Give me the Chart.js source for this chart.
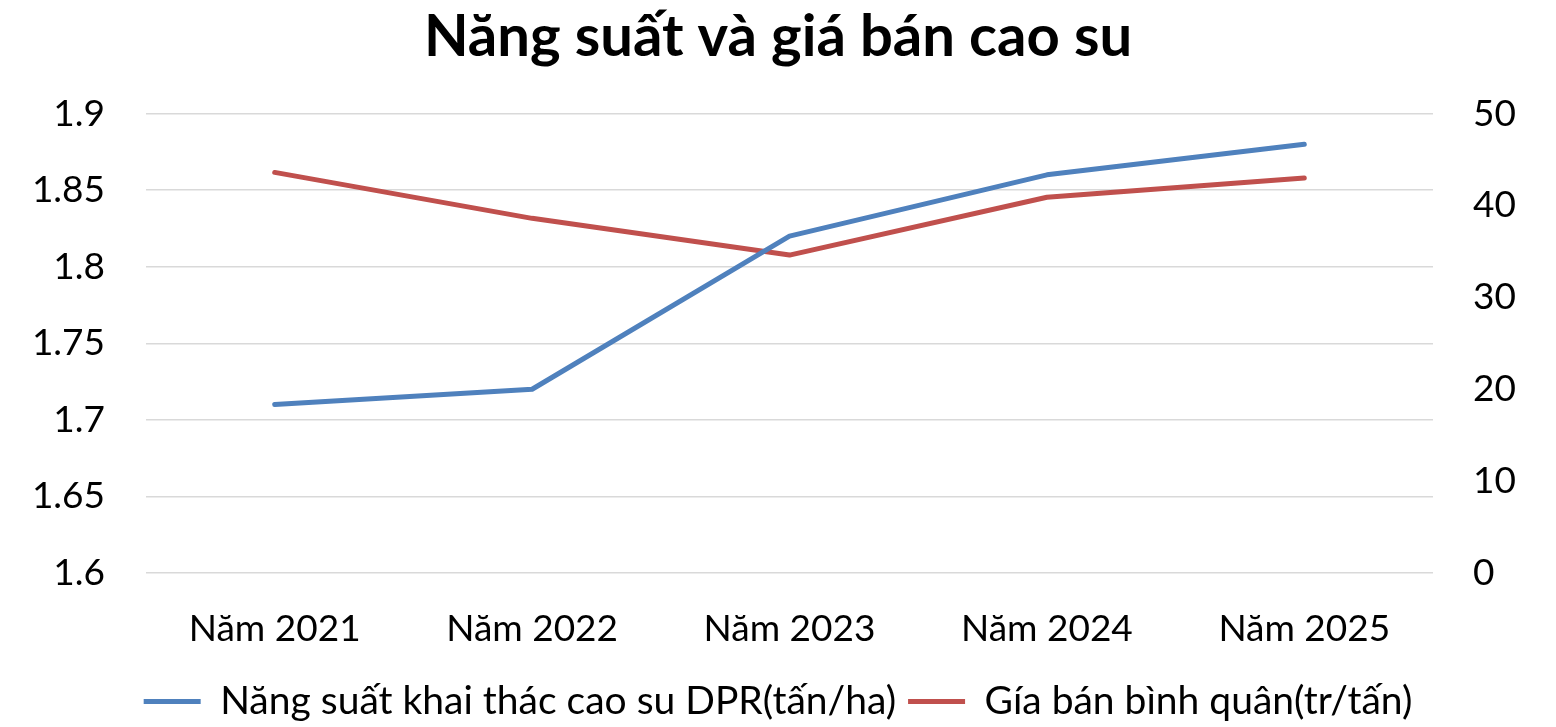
<!DOCTYPE html>
<html>
<head>
<meta charset="utf-8">
<script src="https://cdn.jsdelivr.net/npm/chart.js@4/dist/chart.umd.min.js"></script>
<style>
  html, body { margin: 0; padding: 0; background: #fff; }
  #wrap { width: 1556px; height: 727px; position: relative; }
</style>
</head>
<body>
<div id="wrap"><canvas id="rubberChart"></canvas></div>
<script>
// ── Data ──────────────────────────────────────────────────────────────────
var categories  = ['Năm 2021', 'Năm 2022', 'Năm 2023', 'Năm 2024', 'Năm 2025'];
var yieldValues = [1.71, 1.72, 1.82, 1.86, 1.88];       // tấn/ha, left axis
var priceValues = [43.6, 38.6, 34.6, 40.9, 43.0];       // tr/tấn, right axis
var yieldLabel  = 'Năng suất khai thác cao su DPR(tấn/ha)';
var priceLabel  = 'Gía bán bình quân(tr/tấn)';
var chartTitle  = 'Năng suất và giá bán cao su';

var BLUE = '#4F81BD';
var RED  = '#C0504D';
var GRID = '#D9D9D9';
var FONT = 'Lato, "Open Sans", sans-serif';

function lineSet(label, data, color, axis) {
  return {
    label:            label,
    data:             data,
    yAxisID:          axis,
    borderColor:      color,
    backgroundColor:  color,
    borderWidth:      5,
    borderCapStyle:   'round',
    borderJoinStyle:  'round',
    pointRadius:      0,
    pointHoverRadius: 0,
    tension:          0,
    fill:             false,
  };
}

new Chart(document.getElementById('rubberChart'), {
  type: 'line',
  data: {
    labels: categories,
    datasets: [
      lineSet(yieldLabel, yieldValues, BLUE, 'y'),
      lineSet(priceLabel, priceValues, RED, 'y1'),
    ]
  },
  options: {
    responsive: true,
    maintainAspectRatio: false,
    animation: false,
    layout: { padding: { left: 0, right: 0, top: 0, bottom: -4 } },
    plugins: {
      title: {
        display: true,
        text:    chartTitle,
        color:   '#000',
        font:    { family: FONT, size: 58, weight: 'bold' },
        padding: { top: 2, bottom: 42 },
      },
      legend: {
        position: 'bottom',
        labels: {
          color:           '#000',
          font:            { family: FONT, size: 39 },
          usePointStyle:   true,
          pointStyle:      'line',
          pointStyleWidth: 57,
          boxHeight:       5,
          padding:         12,
        }
      },
      tooltip: { enabled: false },
    },
    scales: {
      x: {
        offset: true,
        afterFit: function(s) { s.height = 97; },
        grid:   { display: false, drawTicks: false },
        border: { display: false },
        ticks:  { color: '#000', font: { family: FONT, size: 37 }, padding: 34, maxRotation: 0 },
      },
      y: {
        position: 'left',
        min: 1.6, max: 1.9,
        afterFit: function(s) { s.width = 146; },
        grid:   { color: GRID, lineWidth: 1.5, drawTicks: false },
        border: { display: false },
        ticks:  {
          stepSize: 0.05,
          color: '#000',
          padding: 41,
          font: { family: FONT, size: 37 },
          callback: function(v) { return +v.toFixed(2); }
        },
      },
      y1: {
        position: 'right',
        min: 0, max: 50,
        afterFit: function(s) { s.width = 123; },
        grid:   { display: false, drawTicks: false },
        border: { display: false },
        ticks:  { stepSize: 10, color: '#000', padding: 40, font: { family: FONT, size: 37 } },
      }
    }
  }
});
</script>
</body>
</html>
